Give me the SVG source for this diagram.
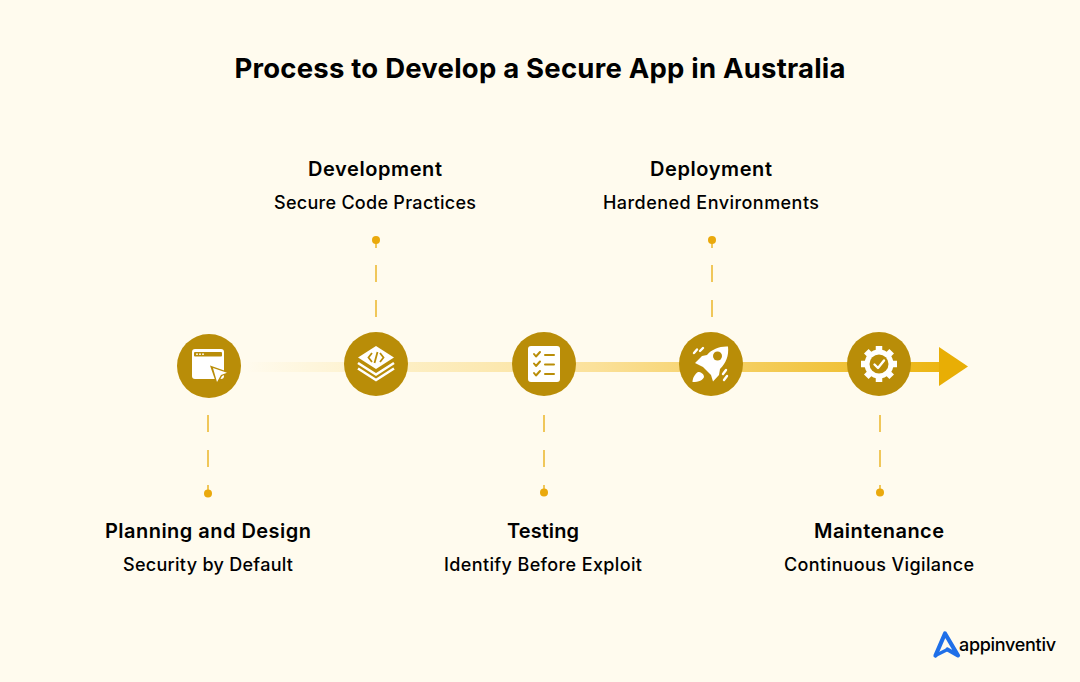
<svg xmlns="http://www.w3.org/2000/svg" width="1080" height="682" viewBox="0 0 1080 682">
<style>
text{font-family:Inter,"Liberation Sans",sans-serif;fill:#000;text-anchor:middle}
.title{font-size:27.500px;font-weight:700}
.h{font-size:20px;font-weight:600}
.s{font-size:18px;font-weight:500}
.dash{stroke:#f0c75a;stroke-width:2;fill:none}
.dot{fill:#eaa90c}
.disc{fill:#b98d08}
.w{fill:#fff}
.g{fill:#b98d08}
.gl{stroke:#b98d08;fill:none;stroke-width:2;stroke-linecap:round;stroke-linejoin:round}
</style>
<defs>
<linearGradient id="bar" gradientUnits="userSpaceOnUse" x1="245" y1="0" x2="945" y2="0">
<stop offset="0" stop-color="#fffbee"/><stop offset="0.2" stop-color="#fdf0c8"/><stop offset="0.5" stop-color="#fbe19a"/><stop offset="1" stop-color="#ecb511"/>
</linearGradient>
</defs>
<rect width="1080" height="682" fill="#fffbee"/>
<text class="title" x="540" y="78" textLength="611" lengthAdjust="spacing">Process to Develop a Secure App in Australia</text>
<g id="connectors">
<rect x="245" y="362" width="696" height="10" fill="url(#bar)"/>
<polygon points="939,347 968,366.5 939,386" fill="#e8ae05"/>
<path class="dash" d="M208 415V432M208 450V467M208 485V493"/><circle class="dot" cx="208" cy="493.500" r="4"/>
<path class="dash" d="M376 240V248M376 265V282M376 300V317"/><circle class="dot" cx="376" cy="240" r="4"/>
<path class="dash" d="M544 415V432M544 450V467M544 485V492"/><circle class="dot" cx="544" cy="492.500" r="4"/>
<path class="dash" d="M712 240V248M712 265V282M712 300V317"/><circle class="dot" cx="712" cy="240" r="4"/>
<path class="dash" d="M880 415V432M880 450V467M880 485V492"/><circle class="dot" cx="880" cy="492.500" r="4"/>
</g>
<g id="node-planning">
<circle class="disc" cx="209" cy="366" r="32"/>
<rect class="w" x="192" y="349" width="32" height="30" rx="3"/>
<rect class="g" x="194" y="352" width="28" height="4.500" rx="1"/>
<circle class="w" cx="197" cy="354.200" r=".9"/><circle class="w" cx="200" cy="354.200" r=".9"/><circle class="w" cx="203" cy="354.200" r=".9"/>
<polygon points="210,365.500 230,372.500 222,376 217,385.500" fill="#b98d08"/>
<polygon points="213,368 227,372.800 221,375 217,382" class="w"/>
<text class="h" x="208" y="538" textLength="206" lengthAdjust="spacing">Planning and Design</text>
<text class="s" x="208" y="571" textLength="170" lengthAdjust="spacing">Security by Default</text>
</g>
<g id="node-development">
<circle class="disc" cx="376" cy="364" r="32"/>
<polygon class="w" points="376,346 394,357.500 376,369 358,357.500"/>
<path d="M358 363L376 374.500L394 363M358 368.500L376 380L394 368.500" fill="none" stroke="#fff" stroke-width="2.600"/>
<path d="M372 353L368.500 357.500L372 362M380 353L383.500 357.500L380 362M377.500 352L374.500 363" fill="none" stroke="#b98d08" stroke-width="1.800"/>
<text class="h" x="375" y="176" textLength="134" lengthAdjust="spacing">Development</text>
<text class="s" x="375" y="209" textLength="202" lengthAdjust="spacing">Secure Code Practices</text>
</g>
<g id="node-testing">
<circle class="disc" cx="544" cy="364" r="32"/>
<rect class="w" x="528" y="346" width="32" height="36" rx="3"/>
<path class="gl" d="M534 354L536 356.500L540 352M534 363.500L536 366L540 361.500M534 373L536 375.500L540 371"/>
<path class="gl" d="M545 355H554M545 364.500H554M545 374H554"/>
<text class="h" x="543" y="538" textLength="72" lengthAdjust="spacing">Testing</text>
<text class="s" x="543" y="571" textLength="198" lengthAdjust="spacing">Identify Before Exploit</text>
</g>
<g id="node-deployment">
<circle class="disc" cx="711" cy="364" r="32"/>
<path class="w" d="M728 346.500C729 356 726 363 720 369L719 375L713 381.500L711 375L703 367L695 363L702 356L707 355C712 349 720 346 728 346.500Z"/>
<circle class="g" cx="717.500" cy="356" r="4.500"/>
<path class="w" d="M698 372C701 372 704 374 704 377C703 380 699 382 692.500 382C692.500 378 695 374 698 372Z"/>
<path d="M694 353L697 349.500M700 351L703 348M726 370L723 374M727 376L724 380" stroke="#fff" stroke-width="2.400" stroke-linecap="round"/>
<text class="h" x="711" y="176" textLength="122" lengthAdjust="spacing">Deployment</text>
<text class="s" x="711" y="209" textLength="216" lengthAdjust="spacing">Hardened Environments</text>
</g>
<g id="node-maintenance">
<circle class="disc" cx="879" cy="364" r="32"/>
<path d="M879 346V382M861 364H897M866.300 351.300L891.700 376.700M891.700 351.300L866.300 376.700" stroke="#fff" stroke-width="6.500"/>
<circle class="w" cx="879" cy="364" r="14.500"/>
<circle class="g" cx="879" cy="364" r="9.500"/>
<path d="M874.500 364.500L878 368L884 360.500" fill="none" stroke="#fff" stroke-width="2.400" stroke-linecap="round" stroke-linejoin="round"/>
<text class="h" x="879" y="538" textLength="130" lengthAdjust="spacing">Maintenance</text>
<text class="s" x="879" y="571" textLength="190" lengthAdjust="spacing">Continuous Vigilance</text>
</g>
<g id="logo">
<path d="M945 633.500L958 655L947 649.500L935.500 655.500Z" fill="none" stroke="#1f6fe8" stroke-width="0"/>
<path d="M935.500 655.500L945 633.500L958 655.500L947.500 649.500" fill="none" stroke="#1f6fe8" stroke-width="4.200" stroke-linejoin="round" stroke-linecap="round"/>
<path d="M935.500 655.500L947.500 649.500" fill="none" stroke="#1f6fe8" stroke-width="3.200" stroke-linecap="round"/>
<text x="1007.500" y="651" style="font-size:18px;font-weight:500" textLength="97" lengthAdjust="spacing">appinventiv</text>
</g>
</svg>
